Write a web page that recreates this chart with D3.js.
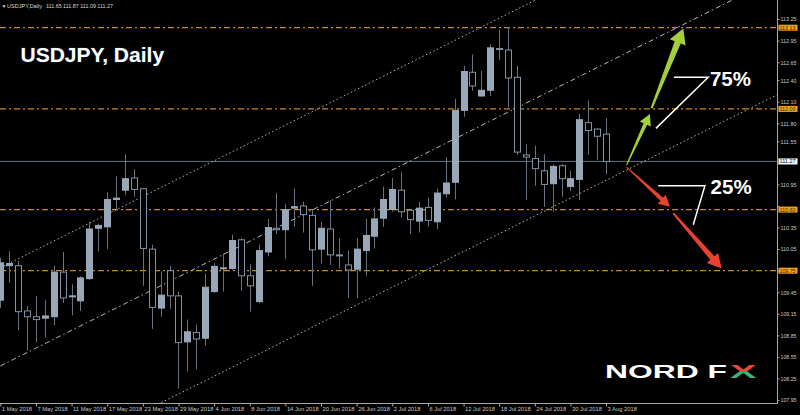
<!DOCTYPE html>
<html><head><meta charset="utf-8">
<script src="https://cdnjs.cloudflare.com/ajax/libs/d3/7.8.5/d3.min.js"></script>
<style>html,body{margin:0;padding:0;background:#000;overflow:hidden}</style>
</head><body><svg id="c" width="800" height="415"></svg>
<script>
// ---------- data ----------
const symbol = "USDJPY";
const timeframe = "Daily";
const dates = ["2018-05-01","2018-05-02","2018-05-03","2018-05-04","2018-05-07","2018-05-08","2018-05-09","2018-05-10","2018-05-11",
"2018-05-14","2018-05-15","2018-05-16","2018-05-17","2018-05-18","2018-05-21","2018-05-22","2018-05-23","2018-05-24","2018-05-25",
"2018-05-28","2018-05-29","2018-05-30","2018-05-31","2018-06-01","2018-06-04","2018-06-05","2018-06-06","2018-06-07","2018-06-08",
"2018-06-11","2018-06-12","2018-06-13","2018-06-14","2018-06-15","2018-06-18","2018-06-19","2018-06-20","2018-06-21","2018-06-22",
"2018-06-25","2018-06-26","2018-06-27","2018-06-28","2018-06-29","2018-07-02","2018-07-03","2018-07-04","2018-07-05","2018-07-06",
"2018-07-09","2018-07-10","2018-07-11","2018-07-12","2018-07-13","2018-07-16","2018-07-17","2018-07-18","2018-07-19","2018-07-20",
"2018-07-23","2018-07-24","2018-07-25","2018-07-26","2018-07-27","2018-07-30","2018-07-31","2018-08-01","2018-08-02","2018-08-03"];
const opens  = [109.34,109.82,109.82,109.19,109.11,109.09,109.11,109.73,109.39,109.33,109.64,110.34,110.36,110.74,110.87,111.04,110.89,110.05,109.23,
109.75,109.40,108.76,108.89,108.81,109.46,109.78,109.78,110.18,109.68,109.32,110.01,110.34,110.32,110.62,110.65,110.52,110.05,110.33,109.97,
109.83,109.77,110.03,110.23,110.48,110.60,110.87,110.59,110.44,110.63,110.43,110.82,110.98,111.98,112.51,112.18,112.26,112.84,112.82,112.44,
111.36,111.31,111.14,110.96,111.21,110.92,111.02,111.81,111.72,111.65];
const highs  = [109.93,110.02,109.89,109.26,109.40,109.34,109.82,110.01,109.56,109.67,110.43,110.40,110.84,111.06,111.37,111.16,110.90,110.11,109.74,
109.82,109.46,109.07,109.00,109.71,109.86,109.99,110.25,110.20,109.84,110.11,110.47,110.83,110.68,110.89,110.71,110.59,110.43,110.73,110.20,
110.03,110.20,110.47,110.63,110.92,111.04,111.12,110.60,110.71,110.77,110.89,111.33,112.14,112.60,112.76,112.53,112.90,113.10,113.13,112.60,
111.51,111.49,111.37,111.23,111.23,111.14,111.93,112.12,111.73,111.87];
const lows   = [109.23,109.58,108.92,108.64,108.75,108.82,108.99,109.30,109.13,109.19,109.62,110.02,110.05,110.59,110.80,110.78,109.54,108.94,109.11,
109.22,108.11,108.35,108.38,108.71,109.44,109.46,109.76,109.47,109.18,109.30,109.95,110.26,109.91,110.36,110.28,109.54,109.85,109.83,109.78,
109.37,109.37,109.68,110.06,110.36,110.57,110.49,110.26,110.28,110.36,110.33,110.77,110.74,111.89,112.25,112.17,112.18,112.68,112.02,111.36,
110.73,110.93,110.64,110.57,110.78,110.86,110.73,111.36,111.29,111.09];
const closes = [109.86,109.85,109.18,109.11,109.07,109.12,109.73,109.37,109.40,109.65,110.33,110.38,110.74,110.76,111.03,110.88,110.06,109.24,109.41,
109.40,108.75,108.90,108.80,109.52,109.81,109.79,110.17,109.68,109.54,110.03,110.35,110.32,110.60,110.64,110.53,110.04,110.34,109.97,109.96,
109.76,110.05,110.24,110.47,110.74,110.88,110.57,110.46,110.62,110.45,110.83,110.97,111.98,112.52,112.32,112.26,112.85,112.83,112.43,111.40,
111.33,111.17,110.95,111.20,111.03,111.03,111.85,111.70,111.62,111.27];
const dateTickEvery = 4;
const priceTicks = [113.25,112.95,112.65,112.40,112.10,111.80,111.55,111.25,110.95,110.65,110.35,110.05,109.75,109.45,109.15,108.85,108.55,108.25,107.95];
const levels = [113.13, 112.00, 110.60, 109.75];
const bidPrice = 111.27;
// channel lines: [barIndex, price] pairs
const channelUpper  = [[0,109.79],[90,115.37]];
const channelMiddle = [[0,108.425],[90,114.00]];
const channelLower  = [[0,106.795],[90,112.37]];
// forecast arrows: [tail, tip] as [barIndex, price]
const upArrows   = [[[70.30,111.22],[72.92,111.93]], [[73.11,112.01],[76.66,113.12]]];
const downArrows = [[[70.30,111.19],[75.16,110.64]], [[75.53,110.55],[80.97,109.78]]];
const probUp = "75%", probDown = "25%";
const calloutUp   = [[75.61,112.44],[79.46,112.44],[73.59,111.73]];
const calloutDown = [[73.85,110.93],[79.09,110.93],[77.78,110.39]];
const labelUpAt   = [79.65,112.32];
const labelDownAt = [79.73,110.81];

// ---------- layout ----------
const W = 800, H = 415, plotR = 777, plotB = 403;
const svg = d3.select("#c");
svg.append("rect").attr("width",W).attr("height",H).attr("fill","#000");

const x = d3.scaleLinear().domain([0, 68]).range([0.3, 606.1]);
const y = d3.scaleLinear().domain([113.13, 107.95]).range([27.7, 400.1]);
const parse = d3.timeParse("%Y-%m-%d");
const fmtDate = d3.timeFormat("%-d %b %Y");

const defs = svg.append("defs");
defs.append("clipPath").attr("id","plot").append("rect").attr("x",0).attr("y",0).attr("width",plotR).attr("height",plotB);
const grad = defs.append("linearGradient").attr("id","xgrad").attr("x1","0").attr("y1","0").attr("x2","0").attr("y2","1");
grad.append("stop").attr("offset","50%").attr("stop-color","#e8473d");
grad.append("stop").attr("offset","50%").attr("stop-color","#3fb37a");

const plot = svg.append("g").attr("clip-path","url(#plot)");

// horizontal levels
const orange = "#c98a1a";
plot.selectAll("line.lvl").data(levels).join("line").attr("class","lvl")
  .attr("x1",0).attr("x2",plotR).attr("y1",d=>y(d)).attr("y2",d=>y(d))
  .attr("stroke",orange).attr("stroke-width",1.3).attr("stroke-dasharray","6,3,2,3");

// bid line
plot.append("line").attr("x1",0).attr("x2",plotR).attr("y1",y(bidPrice)).attr("y2",y(bidPrice))
  .attr("stroke","#65737f").attr("stroke-width",1);

// channel
const line = d3.line().x(d=>x(d[0])).y(d=>y(d[1]));
plot.append("path").attr("d",line(channelUpper)).attr("stroke","#b8b8b8").attr("stroke-width",1).attr("stroke-dasharray","1.5,2.5").attr("fill","none");
plot.append("path").attr("d",line(channelMiddle)).attr("stroke","#b8b8b8").attr("stroke-width",1).attr("stroke-dasharray","5,3,1.5,3").attr("fill","none");
plot.append("path").attr("d",line(channelLower)).attr("stroke","#b8b8b8").attr("stroke-width",1).attr("stroke-dasharray","1.5,2.5").attr("fill","none");

// candles
const bars = dates.map((d,i)=>({i, o:opens[i], h:highs[i], l:lows[i], c:closes[i]}));
const bw = 6;
const cg = plot.append("g");
cg.selectAll("line.wick").data(bars).join("line").attr("class","wick")
  .attr("x1",d=>Math.round(x(d.i))+0.5).attr("x2",d=>Math.round(x(d.i))+0.5)
  .attr("y1",d=>y(d.h)).attr("y2",d=>y(d.l))
  .attr("stroke","#67737f").attr("stroke-width",1);
cg.selectAll("rect.body").data(bars).join("rect").attr("class","body")
  .attr("x",d=>Math.round(x(d.i))+0.5-bw/2).attr("width",bw)
  .attr("y",d=>y(Math.max(d.o,d.c)))
  .attr("height",d=>Math.max(1, Math.abs(y(d.o)-y(d.c))))
  .attr("fill",d=>d.c>=d.o ? "#98a8b8" : "#000")
  .attr("stroke",d=>d.c>=d.o ? "#98a8b8" : "#8292a3").attr("stroke-width",1);

// arrows
function arrowPath(p0,p1,w0,w1,hw,hl){
  const x0=x(p0[0]),y0=y(p0[1]),x1=x(p1[0]),y1=y(p1[1]);
  const dx=x1-x0, dy=y1-y0, L=Math.hypot(dx,dy), ux=dx/L, uy=dy/L, nx=-uy, ny=ux;
  const kx=x0+ux*(L-hl), ky=y0+uy*(L-hl);
  const pts=[[x0+nx*w0/2,y0+ny*w0/2],[kx+nx*w1/2,ky+ny*w1/2],[kx+nx*hw/2,ky+ny*hw/2],[x1,y1],
             [kx-nx*hw/2,ky-ny*hw/2],[kx-nx*w1/2,ky-ny*w1/2],[x0-nx*w0/2,y0-ny*w0/2]];
  return "M"+pts.map(p=>p.join(",")).join("L")+"Z";
}
const ag = svg.append("g");
const green = "#a2cf3a", red = "#e8412f";
ag.append("path").attr("d",arrowPath(upArrows[0][0],upArrows[0][1],1,4,12,11)).attr("fill",green);
ag.append("path").attr("d",arrowPath(upArrows[1][0],upArrows[1][1],2,6.5,17,15)).attr("fill",green);
ag.append("path").attr("d",arrowPath(downArrows[0][0],downArrows[0][1],1,4,12,11)).attr("fill",red);
ag.append("path").attr("d",arrowPath(downArrows[1][0],downArrows[1][1],2,5.5,15,14)).attr("fill",red);

// callouts
ag.append("path").attr("d",line(calloutUp)).attr("stroke","#fff").attr("stroke-width",1.5).attr("fill","none");
ag.append("path").attr("d",line(calloutDown)).attr("stroke","#fff").attr("stroke-width",1.5).attr("fill","none");
ag.append("text").attr("x",x(labelUpAt[0])).attr("y",y(labelUpAt[1])).text(probUp)
  .attr("fill","#fff").attr("font-family","Liberation Sans, Arial, sans-serif").attr("font-weight","bold").attr("font-size",20.5);
ag.append("text").attr("x",x(labelDownAt[0])).attr("y",y(labelDownAt[1])).text(probDown)
  .attr("fill","#fff").attr("font-family","Liberation Sans, Arial, sans-serif").attr("font-weight","bold").attr("font-size",20.5);

// frame
svg.append("line").attr("x1",0).attr("x2",plotR+0.5).attr("y1",plotB+0.5).attr("y2",plotB+0.5).attr("stroke","#a8a8a8");
svg.append("line").attr("x1",plotR+0.5).attr("x2",plotR+0.5).attr("y1",0).attr("y2",plotB+0.5).attr("stroke","#a8a8a8");

// bottom axis
const tickIdx = d3.range(0, dates.length, dateTickEvery);
const xAxis = d3.axisBottom(x).tickValues(tickIdx).tickSize(3).tickPadding(2)
  .tickFormat(i=>fmtDate(parse(dates[i])));
const xg = svg.append("g").attr("transform",`translate(0,${plotB+0.5})`).call(xAxis);
xg.select(".domain").remove();
xg.selectAll(".tick line").attr("stroke","#a8a8a8");
xg.selectAll(".tick text").attr("text-anchor","start").attr("dx",1).attr("dy","0.5em")
  .attr("fill","#c8c8c8").attr("font-family","Liberation Sans, Arial, sans-serif").attr("font-size",5.8);

// right axis (labels hidden where a highlighted price label covers them)
const marked = levels.concat([bidPrice]);
const yAxis = d3.axisRight(y).tickValues(priceTicks).tickSize(2).tickPadding(1).tickFormat(d3.format(".2f"));
const yg = svg.append("g").attr("transform",`translate(${plotR+0.5},0)`).call(yAxis);
yg.select(".domain").remove();
yg.selectAll(".tick line").attr("stroke","#a8a8a8");
yg.selectAll(".tick text").attr("fill","#c8c8c8").attr("font-family","Liberation Sans, Arial, sans-serif")
  .attr("font-size",5.8).attr("textLength",16).attr("lengthAdjust","spacingAndGlyphs");
yg.selectAll(".tick").filter(d=>marked.some(m=>Math.abs(y(m)-y(d))<6.5)).select("text").remove();

// highlighted price labels
const hl = svg.append("g");
levels.forEach(v=>{
  hl.append("rect").attr("x",778.5).attr("y",y(v)-3).attr("width",19).attr("height",6).attr("fill","#f0a31c");
  hl.append("text").attr("x",779.5).attr("y",y(v)+2).text(d3.format(".2f")(v))
    .attr("fill","#3a2a00").attr("font-family","Liberation Sans, Arial, sans-serif").attr("font-size",5.8)
    .attr("textLength",16).attr("lengthAdjust","spacingAndGlyphs");
});
hl.append("rect").attr("x",778.5).attr("y",y(bidPrice)-3).attr("width",19).attr("height",6).attr("fill","#fff").attr("stroke","#888").attr("stroke-width",0.5);
hl.append("text").attr("x",779.5).attr("y",y(bidPrice)+2).text(d3.format(".2f")(bidPrice))
  .attr("fill","#000").attr("font-family","Liberation Sans, Arial, sans-serif").attr("font-size",5.8)
  .attr("textLength",16).attr("lengthAdjust","spacingAndGlyphs");

// header
const last = bars[bars.length-1];
const hd = svg.append("g").attr("font-family","Liberation Sans, Arial, sans-serif").attr("font-size",5.8).attr("fill","#d8d8d8");
hd.append("text").attr("x",1.5).attr("y",8).text("▼").attr("font-size",5);
hd.append("text").attr("x",7).attr("y",8).text(`${symbol},${timeframe}`).attr("textLength",35).attr("lengthAdjust","spacingAndGlyphs");
hd.append("text").attr("x",46).attr("y",8).text([last.o,last.h,last.l,last.c].map(d3.format(".2f")).join(" "))
  .attr("textLength",67).attr("lengthAdjust","spacingAndGlyphs");

// title
svg.append("text").attr("x",20.5).attr("y",61.7).text(`${symbol}, ${timeframe}`)
  .attr("fill","#fff").attr("font-family","Liberation Sans, Arial, sans-serif").attr("font-weight","bold").attr("font-size",21)
  .attr("stroke","#14233d").attr("stroke-width",1).attr("paint-order","stroke");

// logo
const lg = svg.append("g").attr("font-family","Liberation Sans, Arial, sans-serif").attr("font-weight","900").attr("font-size",17.5);
lg.append("text").attr("x",605).attr("y",377.7).text("NORD F").attr("fill","#fff")
  .attr("textLength",122).attr("lengthAdjust","spacingAndGlyphs");
lg.append("text").attr("x",730).attr("y",377.7).text("X").attr("fill","url(#xgrad)")
  .attr("textLength",26.5).attr("lengthAdjust","spacingAndGlyphs");
</script></body></html>
